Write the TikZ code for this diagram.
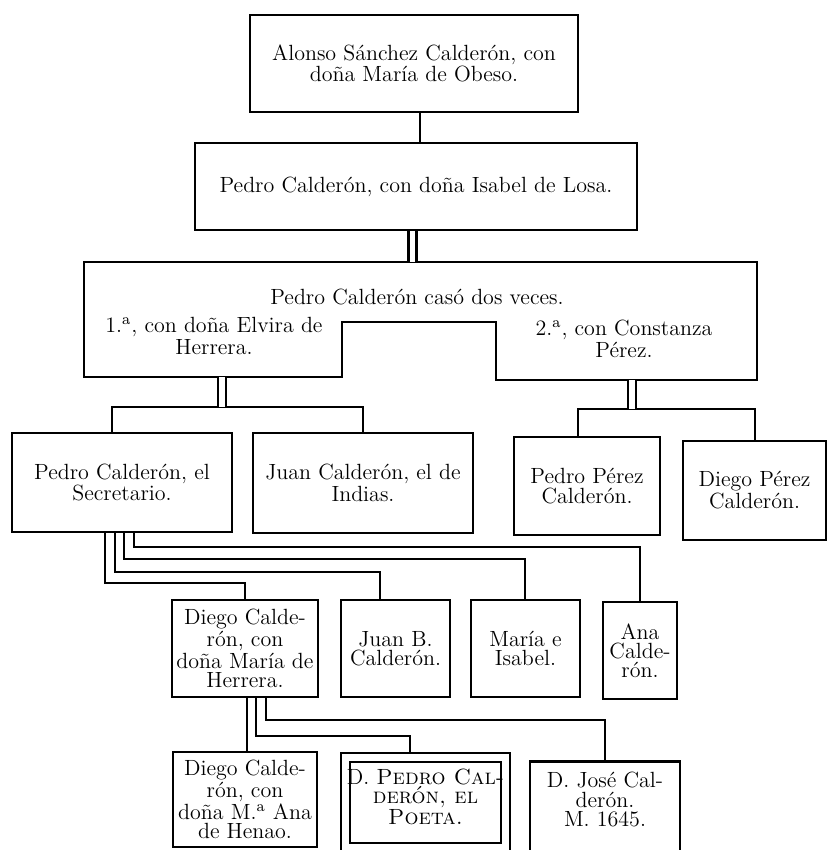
\documentclass[tikz,border=0pt]{standalone}

\begin{document}
\begin{tikzpicture}[x=0.5pt, y=-0.5pt,
      famline/.style={line width=1.4pt},
      twin/.style={famline, double, double distance=2.6pt},
      txt/.style={font=\fontsize{11}{9.6}\selectfont, align=center, inner sep=0pt},
      box/.style={txt, famline, draw}]
  \useasboundingbox (0,0) rectangle (826,850);

  % top of the family
  \node[box, minimum width=164pt, minimum height=48.5pt] (alon) at (414,63.5)
    {Alonso Sánchez Calderón, con\\doña María de Obeso.};
  \node[box, minimum width=221pt, minimum height=43.5pt] (ped1) at (416,186.5)
    {Pedro Calderón, con doña Isabel de Losa.};

  % the two marriages
  \draw[famline] (84,377) -- (84,262) -- (757,262) -- (757,380) -- (496,380)
    -- (496,322) -- (342,322) -- (342,377) -- cycle;
  \node[txt] (caso) at (417,297) {Pedro Calderón casó dos veces.};
  \node[txt] (elv) at (214,336) {1.\textsuperscript{a}, con doña Elvira de\\Herrera.};
  \node[txt] (cons) at (624,339) {2.\textsuperscript{a}, con Constanza\\Pérez.};
  \coordinate (casotop) at (412.5,262);
  \coordinate (elvbot) at (222,377);
  \coordinate (consbot) at (632,380);

  % children
  \node[box, minimum width=110pt, minimum height=49.5pt] (sec) at (122,482.5)
    {Pedro Calderón, el\\Secretario.};
  \node[box, minimum width=110pt, minimum height=50pt] (jci) at (363,483)
    {Juan Calderón, el de\\Indias.};
  \node[box, minimum width=73pt, minimum height=49pt] (ppc) at (587,486)
    {Pedro Pérez\\Calderón.};
  \node[box, minimum width=71.5pt, minimum height=49.5pt] (dpc) at (754.5,490.5)
    {Diego Pérez\\Calderón.};

  % grandchildren
  \node[box, minimum width=73pt, minimum height=48.5pt] (dcm) at (245,648.5)
    {Diego Calde-\\rón, con\\doña María de\\Herrera.};
  \node[box, minimum width=54.5pt, minimum height=48.5pt] (jnb) at (395.5,648.5)
    {Juan B.\\Calderón.};
  \node[box, minimum width=54.5pt, minimum height=48.5pt] (mis) at (525.5,648.5)
    {María e\\Isabel.};
  \node[box, minimum width=37pt, minimum height=48.5pt] (ana) at (640,650.5)
    {Ana\\Calde-\\rón.};

  % last row
  \node[box, minimum width=72pt, minimum height=47.5pt] (dch) at (245,799.5)
    {Diego Calde-\\rón, con\\doña M.\textsuperscript{a} Ana\\de Henao.};
  \node[box, double, double distance=3.1pt, minimum width=80pt, minimum height=45pt,
    text depth=6pt] (poeta) at (425.5,802.5)
    {D. \textsc{Pedro Cal-}\\\textsc{derón, el}\\\textsc{Poeta.}};
  \node[box, minimum width=75pt, anchor=north, inner ysep=5.5pt, text depth=40pt]
    (jcd) at (605,760) {D. José Cal-\\derón.\\M. 1645.};

  % lines of descent
  \draw[famline] (alon.south -| 420,0) -- (ped1.north -| 420,0);
  \draw[twin] (ped1.south -| casotop) -- (casotop);
  \draw[famline] (sec.north -| 112,0) |- (jci.north |- 0,407) -- (jci.north);
  \draw[twin] (elvbot) -- (elvbot |- 0,407);
  \draw[famline] (ppc.north -| 578,0) |- (755,409) -- (dpc.north -| 755,0);
  \draw[twin] (consbot) -- (consbot |- 0,409);
  \draw[famline] (sec.south -| 105,0) |- (dcm.north |- 0,583) -- (dcm.north);
  \draw[famline] (sec.south -| 115,0) |- (380,572) -- (jnb.north -| 380,0);
  \draw[famline] (sec.south -| 124,0) |- (525,559) -- (mis.north -| 525,0);
  \draw[famline] (sec.south -| 134,0) |- (ana.north |- 0,547) -- (ana.north);
  \draw[famline] (dcm.south -| 247,0) -- (dch.north -| 247,0);
  \draw[famline, shorten >=2.25pt] (dcm.south -| 256,0) |- (410,736) -- (poeta.north -| 410,0);
  \draw[famline] (dcm.south -| 266,0) |- (jcd.north |- 0,720) -- (jcd.north);
\end{tikzpicture}
\end{document}
